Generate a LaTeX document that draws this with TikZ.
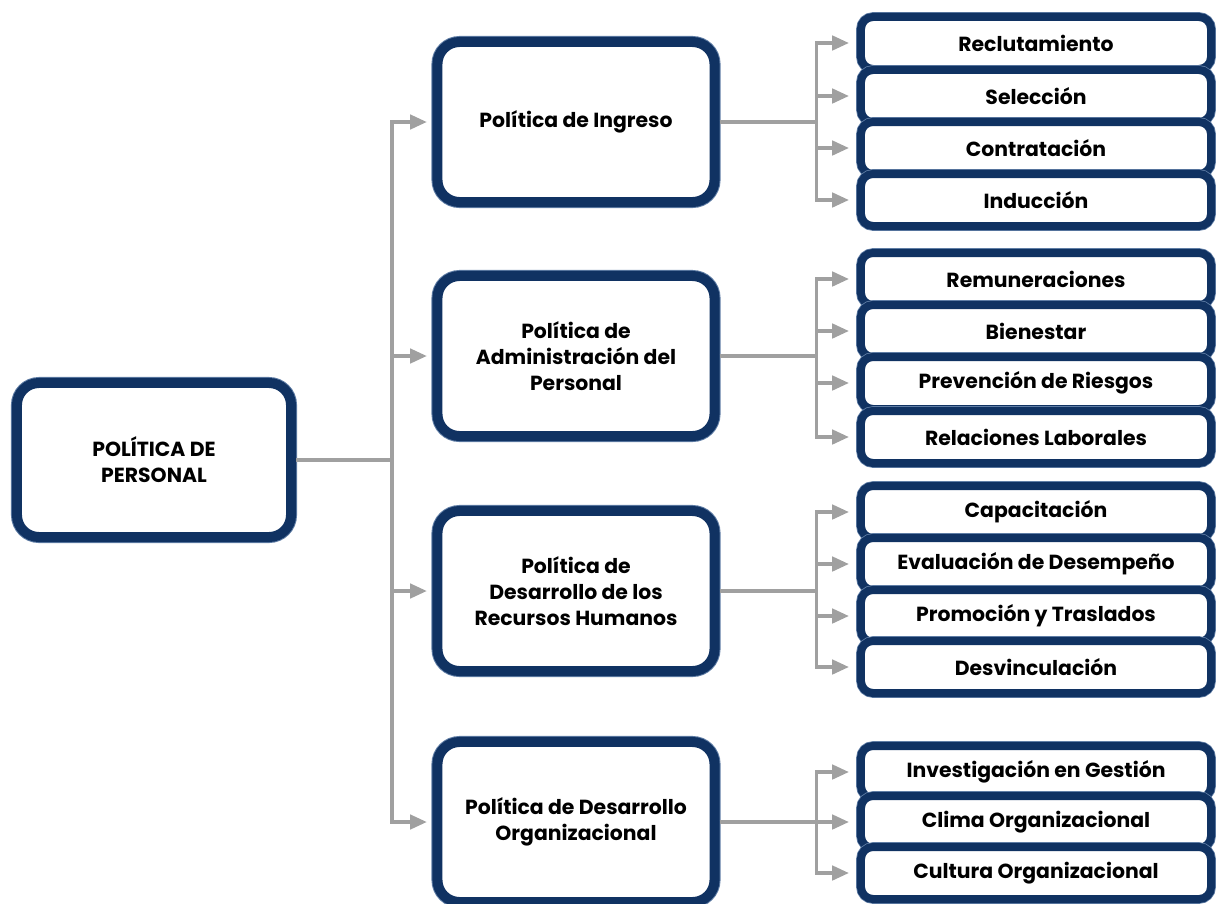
\documentclass[tikz,border=0pt]{standalone}
\usepackage{fontspec}
\setmainfont{Poppins}
\usetikzlibrary{arrows.meta}
\definecolor{boxblue}{RGB}{16,50,98}
\definecolor{edgeblue}{RGB}{95,125,165}
\definecolor{linegray}{RGB}{160,160,160}
\tikzset{
  txt/.style={font=\bfseries\fontsize{14.5}{18.5}\selectfont, align=center, text=black},
  bigbox/.style={txt, draw=boxblue, fill=white, line width=0.25cm, rounded corners=0.55cm,
    preaction={draw=edgeblue, line width=0.3cm}},
  rootbox/.style={bigbox, minimum width=6.85cm, minimum height=3.85cm},
  midbox/.style={bigbox, minimum width=6.925cm, minimum height=4cm},
  leafbox/.style={txt, draw=boxblue, fill=white, line width=0.2cm, rounded corners=0.3cm,
    preaction={draw=edgeblue, line width=0.24cm},
    minimum width=8.75cm, minimum height=1.3cm},
  conn/.style={draw=linegray, line width=0.085cm},
  arr/.style={conn, -{Triangle[length=0.42cm, width=0.36cm]}},
}
\begin{document}
\begin{tikzpicture}[x=0.025cm, y=-0.025cm]
    \useasboundingbox (0,0) rectangle (1221,903);
    \node[rootbox] (root) at (154,460) {POLÍTICA DE\\PERSONAL};
    \node[midbox] (ing) at (576,122) {Política de Ingreso};
    \node[midbox] (adm) at (576,356) {Política de\\Administración del\\Personal};
    \node[midbox] (drh) at (576,591) {Política de\\Desarrollo de los\\Recursos Humanos};
    \node[midbox] (dor) at (576,822) {Política de Desarrollo\\Organizacional};
    \node[leafbox] (rec) at (1036,43) {Reclutamiento};
    \node[leafbox] (sel) at (1036,96) {Selección};
    \node[leafbox] (con) at (1036,148) {Contratación};
    \node[leafbox] (ind) at (1036,200) {Inducción};
    \node[leafbox] (rem) at (1036,279) {Remuneraciones};
    \node[leafbox] (bie) at (1036,331) {Bienestar};
    \node[leafbox] (pre) at (1036,383) {Prevención de Riesgos};
    \node[leafbox] (rel) at (1036,437) {Relaciones Laborales};
    \node[leafbox] (cap) at (1036,512) {Capacitación};
    \node[leafbox] (eva) at (1036,564) {Evaluación de Desempeño};
    \node[leafbox] (pro) at (1036,616) {Promoción y Traslados};
    \node[leafbox] (des) at (1036,667) {Desvinculación};
    \node[leafbox] (inv) at (1036,772) {Investigación en Gestión};
    \node[leafbox] (cli) at (1036,822) {Clima Organizacional};
    \node[leafbox] (cul) at (1036,873) {Cultura Organizacional};
    \draw[conn] (root.east) -- ++(96,0) coordinate (trunk);
    \draw[arr, shorten >=0.14cm] (trunk) |- (ing.west);
    \draw[arr, shorten >=0.14cm] (trunk) |- (adm.west);
    \draw[arr, shorten >=0.14cm] (trunk) |- (drh.west);
    \draw[arr, shorten >=0.14cm] (trunk) |- (dor.west);
    \draw[conn] (ing.east) -- ++(97,0) coordinate (bing);
    \draw[arr, shorten >=0.2cm] (bing) |- (rec.west);
    \draw[arr, shorten >=0.2cm] (bing) |- (sel.west);
    \draw[arr, shorten >=0.2cm] (bing) |- (con.west);
    \draw[arr, shorten >=0.2cm] (bing) |- (ind.west);
    \draw[conn] (adm.east) -- ++(97,0) coordinate (badm);
    \draw[arr, shorten >=0.2cm] (badm) |- (rem.west);
    \draw[arr, shorten >=0.2cm] (badm) |- (bie.west);
    \draw[arr, shorten >=0.2cm] (badm) |- (pre.west);
    \draw[arr, shorten >=0.2cm] (badm) |- (rel.west);
    \draw[conn] (drh.east) -- ++(97,0) coordinate (bdrh);
    \draw[arr, shorten >=0.2cm] (bdrh) |- (cap.west);
    \draw[arr, shorten >=0.2cm] (bdrh) |- (eva.west);
    \draw[arr, shorten >=0.2cm] (bdrh) |- (pro.west);
    \draw[arr, shorten >=0.2cm] (bdrh) |- (des.west);
    \draw[conn] (dor.east) -- ++(97,0) coordinate (bdor);
    \draw[arr, shorten >=0.2cm] (bdor) |- (inv.west);
    \draw[arr, shorten >=0.2cm] (bdor) |- (cli.west);
    \draw[arr, shorten >=0.2cm] (bdor) |- (cul.west);
\end{tikzpicture}
\end{document}
